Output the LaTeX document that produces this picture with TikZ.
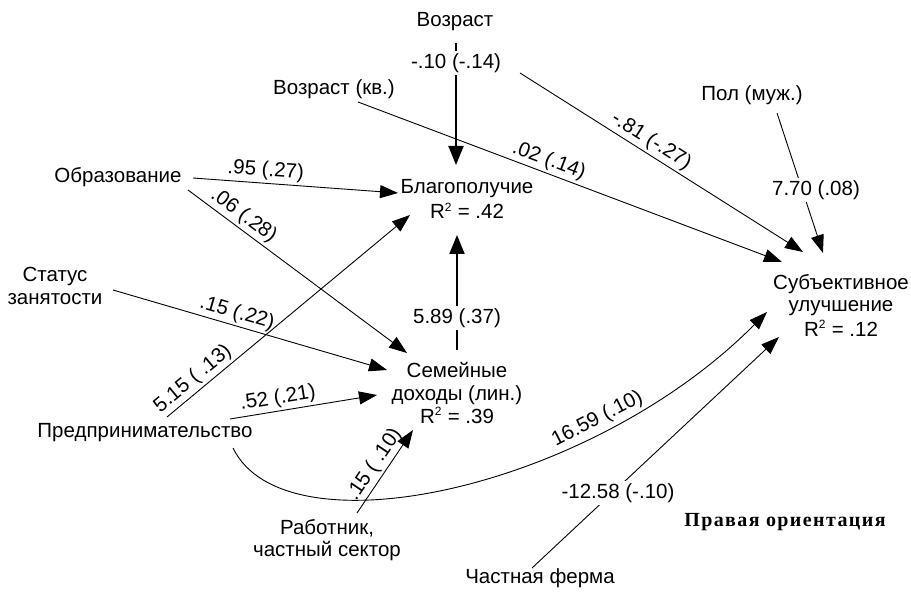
\documentclass[tikz,border=0pt]{standalone}
\usepackage{fontspec}
\setmainfont{Liberation Sans}
\newfontfamily\orientfont[LetterSpace=7]{Liberation Serif}
\usetikzlibrary{arrows.meta}
\tikzset{
  txt/.style={font=\fontsize{20.5}{22.5}\selectfont, align=center, inner sep=0pt},
  lab/.style={font=\fontsize{20.5}{22.5}\selectfont, inner sep=2.5pt},
  ulab/.style={font=\fontsize{20.5}{22.5}\selectfont, fill=white, inner sep=2pt},
  conn/.style={line width=0.9pt, -{Triangle[length=18pt,width=13pt]}},
  thickconn/.style={line width=2pt, -{Triangle[length=19pt,width=15pt]}},
}
\newcommand{\Rsq}[1]{R\textsuperscript{\fontsize{12}{12}\selectfont 2} = #1}
\begin{document}
\begin{tikzpicture}[x=1pt,y=-1pt]
\useasboundingbox (0,0) rectangle (911,593);
\fill[white] (0,0) rectangle (911,593);

% nodes
\node[txt] (vozr)   at (455,22)  {Возраст};
\node[txt] (vozrkv) at (334,89)  {Возраст (кв.)};
\node[txt] (obr)    at (118,177) {Образование};
\node[txt] (status) at (55,286)  {Статус\\занятости};
\node[txt] (predpr) at (145,433) {Предпринимательство};
\node[txt] (rab)    at (327,540) {Работник,\\частный сектор};
\node[txt] (ferma)  at (540,578) {Частная ферма};
\node[txt] (pol)    at (752,95)  {Пол (муж.)};
\node[txt] (blag)   at (467,199) {Благополучие\\[3pt]\Rsq{.42}};
\node[txt] (sem)    at (457,393) {Семейные\\доходы (лин.)\\[1pt]\Rsq{.39}};
\node[txt] (subj)   at (841,305) {Субъективное\\улучшение\\[2pt]\Rsq{.12}};
\node[inner sep=0pt, font=\orientfont\bfseries\fontsize{20}{22}\selectfont] (orient) at (785,522) {Правая ориентация};

% connector end points
\coordinate (vozrS)   at (456,43);
\coordinate (blagN)   at (456,165);
\coordinate (vozrR)   at (520,73);
\coordinate (subjA)   at (803,252);
\coordinate (vozrkvS) at (358,102);
\coordinate (subjB)   at (782,262);
\coordinate (polS)    at (777,113);
\coordinate (subjC)   at (823,253);
\coordinate (obrE)    at (193,178);
\coordinate (blagW)   at (398,193);
\coordinate (obrSE)   at (188,190);
\coordinate (semA)    at (407,353);
\coordinate (statusE) at (113,290);
\coordinate (semB)    at (387,370);
\coordinate (predA)   at (167,417);
\coordinate (blagSW)  at (410,215);
\coordinate (predB)   at (230,419);
\coordinate (semC)    at (377,395);
\coordinate (predC)   at (233,448);
\coordinate (subjD)   at (767,312);
\coordinate (rabN)    at (357,513);
\coordinate (semD)    at (413,430);
\coordinate (fermaN)  at (532,568);
\coordinate (subjE)   at (779,337);
\coordinate (semN)    at (457,350);
\coordinate (blagS)   at (457,235);

% connectors
\draw[thickconn] (vozrS) -- node[ulab,pos=0.164] {-.10 (-.14)} (blagN);
\draw[thickconn] (semN) -- node[ulab,pos=0.278] {5.89 (.37)} (blagS);
\draw[conn] (vozrR) -- node[lab,sloped,above,pos=0.44] {-.81 (-.27)} (subjA);
\draw[conn] (vozrkvS) -- node[lab,sloped,above,pos=0.44] {.02 (.14)} (subjB);
\draw[conn] (polS) -- (subjC);
\node[ulab] (polLab) at (816,190) {7.70 (.08)};
\draw[conn] (obrE) -- node[lab,sloped,above,pos=0.35] {.95 (.27)} (blagW);
\draw[conn] (obrSE) -- node[lab,sloped,above,pos=0.22] {.06 (.28)} (semA);
\draw[conn] (statusE) -- node[lab,sloped,above,pos=0.44] {.15 (.22)} (semB);
\draw[conn] (predA) -- node[lab,sloped,above,pos=0.14] {5.15 ( .13)} (blagSW);
\draw[conn] (predB) -- node[lab,sloped,above,pos=0.34] {.52 (.21)} (semC);
\draw[conn] (predC) .. controls (285,555) and (590,490) .. node[lab,sloped,above,pos=0.73] {16.59 (.10)} (subjD);
\draw[conn] (rabN) -- node[lab,sloped,above,pos=0.5] {.15 ( .10)} (semD);
\draw[conn] (fermaN) -- (subjE);
\node[ulab] (fermaLab) at (618,493) {-12.58 (-.10)};
\end{tikzpicture}
\end{document}
